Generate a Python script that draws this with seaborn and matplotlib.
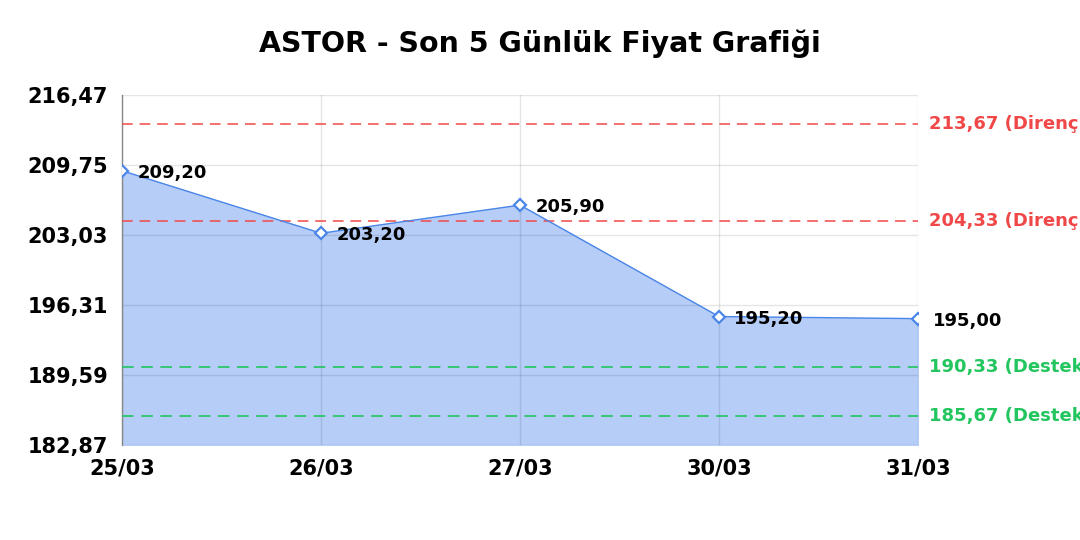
import numpy as np
import pandas as pd
import seaborn as sns
from matplotlib import pyplot as plt

# data
dates = ["25/03", "26/03", "27/03", "30/03", "31/03"]
prices = [209.20, 203.20, 205.90, 195.20, 195.00]
resistance = [213.67, 204.33]
support = [190.33, 185.67]
y_ticks = [182.87, 189.59, 196.31, 203.03, 209.75, 216.47]

df = pd.DataFrame({"pos": np.arange(len(dates)), "price": prices})


def tr(v):
    return f"{v:.2f}".replace(".", ",")


sns.set_style("white")
plt.rcParams["font.family"] = ["DejaVu Sans"]

fig = plt.figure(figsize=(10.8, 5.4), dpi=100)
ax = fig.add_axes([0.113, 0.176, 0.737, 0.648])

line_c = "#4a86e8"
ax.fill_between(df["pos"], df["price"], y_ticks[0], color="#b6cdf7", zorder=0.4)
sns.lineplot(data=df, x="pos", y="price", ax=ax, color=line_c, linewidth=1,
             marker="D", markersize=6, markerfacecolor="white",
             markeredgecolor=line_c, markeredgewidth=1.6, zorder=4)

for x, y in zip(df["pos"], df["price"]):
    ax.annotate(tr(y), (x, y), xytext=(11, -1.5), textcoords="offset points",
                ha="left", va="center", fontsize=13, fontweight="bold",
                color="black", zorder=5)

dash = (0, (7, 4.5))
for lv in resistance:
    ax.axhline(lv, color="#f04848", linestyle=dash, linewidth=1.1, zorder=3)
    ax.annotate(f"{tr(lv)} (Direnç)", (1, lv), xycoords=("axes fraction", "data"),
                xytext=(8, 0), textcoords="offset points", va="center",
                fontsize=13, fontweight="bold", color="#f04848",
                annotation_clip=False)
for lv in support:
    ax.axhline(lv, color="#22c55e", linestyle=dash, linewidth=1.2, zorder=3)
    ax.annotate(f"{tr(lv)} (Destek)", (1, lv), xycoords=("axes fraction", "data"),
                xytext=(8, 0), textcoords="offset points", va="center",
                fontsize=13, fontweight="bold", color="#22c55e",
                annotation_clip=False)

ax.set_xlim(0, len(dates) - 1)
ax.set_ylim(y_ticks[0], y_ticks[-1])
ax.set_xticks(df["pos"])
ax.set_xticklabels(dates, fontsize=15, fontweight="bold", color="black")
ax.set_yticks(y_ticks)
ax.set_yticklabels([tr(v) for v in y_ticks], fontsize=15, fontweight="bold",
                   color="black")
ax.tick_params(axis="x", length=0, pad=10)
ax.tick_params(axis="y", length=0, pad=10)
ax.set_xlabel("")
ax.set_ylabel("")
ax.grid(True, color="black", alpha=0.1, linewidth=1)
ax.set_axisbelow(True)
for s in ["top", "right", "bottom"]:
    ax.spines[s].set_visible(False)
ax.spines["left"].set_color("#888888")
ax.spines["left"].set_linewidth(1)

fig.text(0.5, 1 - 44 / 540, "ASTOR - Son 5 Günlük Fiyat Grafiği", ha="center",
         va="center", fontsize=20.5, fontweight="bold", color="black")

fig.savefig("out.png", dpi=100)
